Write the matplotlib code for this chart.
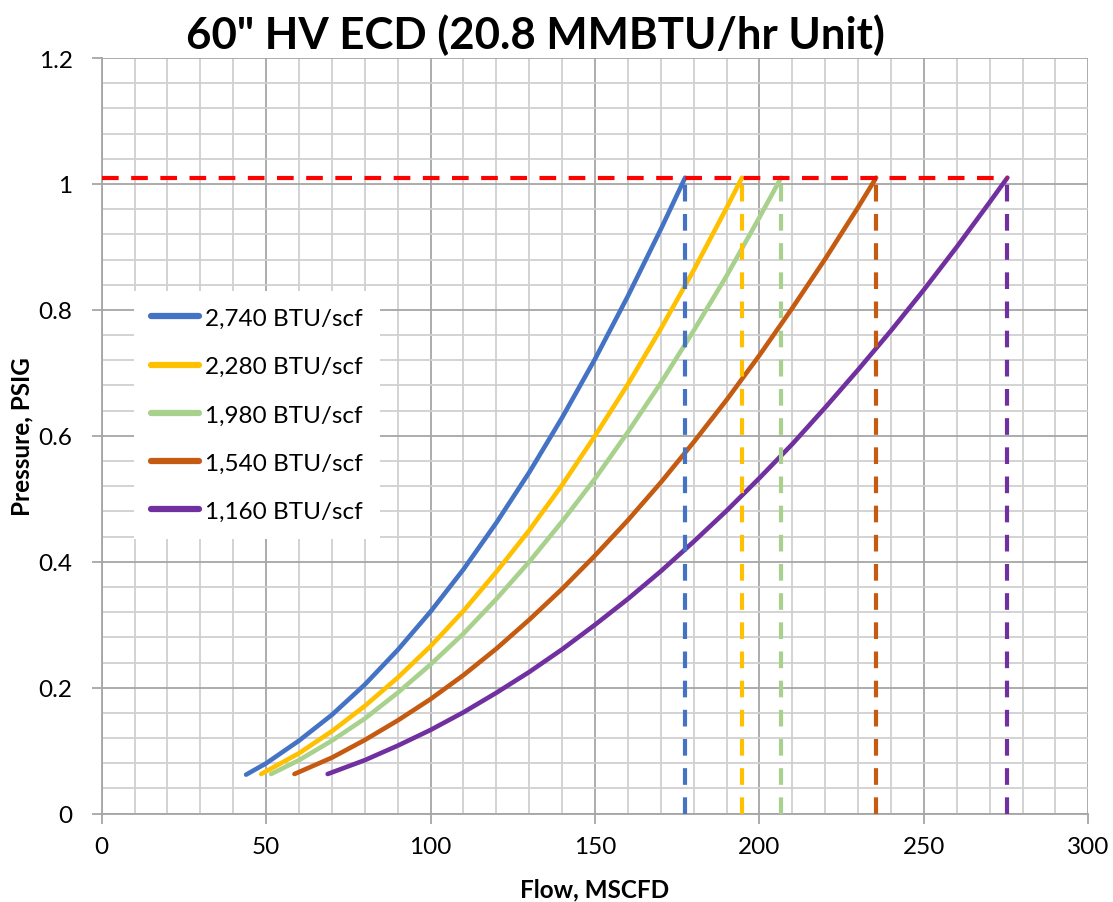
import matplotlib
matplotlib.use("Agg")
import matplotlib.pyplot as plt
from matplotlib.ticker import MultipleLocator, FuncFormatter

plt.rcParams['font.family'] = ['Lato', 'DejaVu Sans']

labels = ["2,740 BTU/scf", "2,280 BTU/scf", "1,980 BTU/scf", "1,540 BTU/scf", "1,160 BTU/scf"]
colors = ["#4472C4", "#FFC000", "#A9D18E", "#C55A11", "#7030A0"]

flow_2740 = [43.9, 50, 60, 70, 80, 90, 100, 110, 120, 130, 140, 150, 160, 170, 177.4]
pres_2740 = [0.062, 0.080, 0.116, 0.157, 0.205, 0.260, 0.321, 0.388, 0.462, 0.542, 0.629, 0.722, 0.822, 0.928, 1.01]

flow_2280 = [48.5, 60, 70, 80, 90, 100, 110, 120, 130, 140, 150, 160, 170, 180, 190, 194.7]
pres_2280 = [0.063, 0.096, 0.131, 0.171, 0.216, 0.266, 0.322, 0.384, 0.450, 0.522, 0.600, 0.682, 0.770, 0.863, 0.962, 1.01]

flow_1980 = [51.5, 60, 70, 80, 90, 100, 110, 120, 130, 140, 150, 160, 170, 180, 190, 200, 206.6]
pres_1980 = [0.063, 0.085, 0.116, 0.151, 0.192, 0.237, 0.286, 0.341, 0.400, 0.464, 0.532, 0.606, 0.684, 0.767, 0.854, 0.947, 1.01]

flow_1540 = [58.6, 70, 80, 90, 100, 110, 120, 130, 140, 150, 160, 170, 180, 190, 200, 210, 220, 230, 235.5]
pres_1540 = [0.063, 0.089, 0.117, 0.148, 0.182, 0.220, 0.262, 0.308, 0.357, 0.410, 0.466, 0.526, 0.590, 0.657, 0.728, 0.803, 0.881, 0.963, 1.01]

flow_1160 = [68.7, 80, 90, 100, 110, 120, 130, 140, 150, 160, 170, 180, 190, 200, 210, 220, 230, 240, 250, 260, 270, 275.4]
pres_1160 = [0.063, 0.085, 0.108, 0.133, 0.161, 0.192, 0.225, 0.261, 0.300, 0.341, 0.385, 0.432, 0.481, 0.533, 0.587, 0.645, 0.705, 0.767, 0.832, 0.900, 0.971, 1.01]

design_pressure = 1.01

flows = [flow_2740, flow_2280, flow_1980, flow_1540, flow_1160]
pressures = [pres_2740, pres_2280, pres_1980, pres_1540, pres_1160]

fig = plt.figure(figsize=(11.13, 9.03), dpi=100)
ax = fig.add_axes([0.0914, 0.0978, 0.8864, 0.8368])

ax.set_xlim(0, 300)
ax.set_ylim(0, 1.2)
ax.xaxis.set_major_locator(MultipleLocator(50))
ax.xaxis.set_minor_locator(MultipleLocator(10))
ax.yaxis.set_major_locator(MultipleLocator(0.2))
ax.yaxis.set_minor_locator(MultipleLocator(0.04))
ax.yaxis.set_major_formatter(FuncFormatter(lambda v, pos: '{:g}'.format(round(v, 2))))
ax.grid(which='major', color='#a6a6a6', linewidth=1.3, zorder=0)
ax.grid(which='minor', color='#d0d0d0', linewidth=1.3, zorder=0)
ax.set_axisbelow(True)
for s in ['top', 'right']:
    ax.spines[s].set_visible(False)
for s in ['left', 'bottom']:
    ax.spines[s].set_color('#a6a6a6')
    ax.spines[s].set_linewidth(1.3)
ax.tick_params(which='major', length=7, width=1.3, color='#a6a6a6', labelsize=17.5)
ax.tick_params(axis='y', which='major', pad=14)
ax.tick_params(axis='x', which='major', pad=9)
ax.tick_params(which='minor', length=0)

dash = (0, (4, 3))
for f, p, c, lab in zip(flows, pressures, colors, labels):
    ax.plot(f, p, color=c, lw=3.3, solid_capstyle='round', label=lab, zorder=3)
for f, c in zip(flows, colors):
    ax.vlines(f[-1], 0, design_pressure, colors=c, linestyles=dash, lw=3, zorder=4)
ax.hlines(design_pressure, 0, max(f[-1] for f in flows), colors='#FF0000', linestyles=dash, lw=3, zorder=5)

leg = ax.legend(loc='upper left', bbox_to_anchor=(0.020, 0.708), frameon=True, fancybox=False,
                edgecolor='none', facecolor='white', framealpha=1, fontsize=17.5,
                handlelength=2.0, handletextpad=0.25, labelspacing=1.12, borderpad=0.7)
for h in leg.get_lines():
    h.set_linewidth(4.5)
    h.set_solid_capstyle('round')

ax.set_xlabel('Flow, MSCFD', fontsize=17.5, fontweight='bold', labelpad=15)
ax.set_ylabel('Pressure, PSIG', fontsize=17.5, fontweight='bold', labelpad=4)
fig.text(535 / 1113, 1 - 35 / 903, '60" HV ECD (20.8 MMBTU/hr Unit)', ha='center', va='center',
         fontsize=31.5, fontweight='bold')

fig.savefig('out.png', dpi=100)
